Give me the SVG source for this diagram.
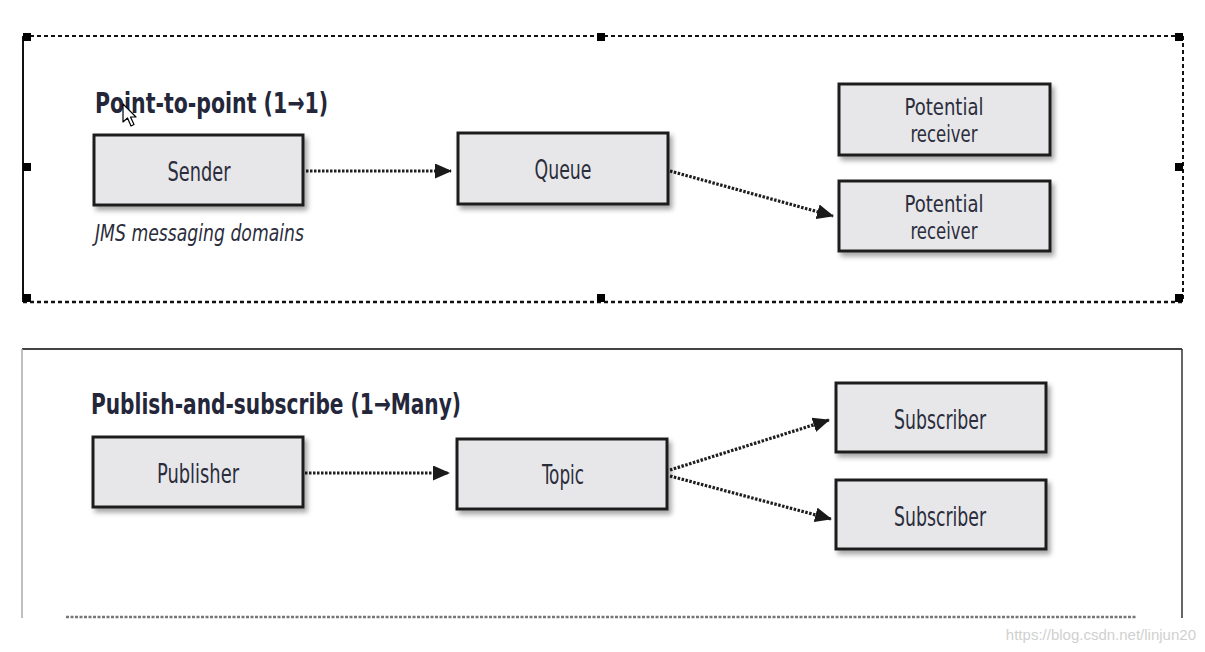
<svg xmlns="http://www.w3.org/2000/svg" width="1205" height="652" viewBox="0 0 1205 652">
<defs>
<filter id="sh" x="-10%" y="-20%" width="130%" height="150%">
<feDropShadow dx="3" dy="4" stdDeviation="2.5" flood-color="#000" flood-opacity="0.35"/>
</filter>
<marker id="ah" markerWidth="17" markerHeight="15" refX="16" refY="7.5" orient="auto" markerUnits="userSpaceOnUse">
<path d="M0,0 L17,7.5 L0,15 Z" fill="#1a1a1a"/>
</marker>
<style>
.box{fill:#e7e7e9;stroke:#1e1e1e;stroke-width:3;filter:url(#sh)}
.lbl{font-family:"Liberation Sans Narrow","DejaVu Sans Condensed","Liberation Sans",sans-serif;font-size:26px;fill:#2b2d3c;text-anchor:middle}
.lbl2{font-size:22.5px}
.title{font-family:"Liberation Sans Narrow","DejaVu Sans Condensed","Liberation Sans",sans-serif;font-weight:bold;font-size:29px;fill:#24263a}
.conn{stroke:#1e1e1e;stroke-width:3.2;stroke-dasharray:2.5 1.5;fill:none;marker-end:url(#ah)}
.hd{fill:#000}
</style>
</defs>
<rect width="1205" height="652" fill="#fff"/>

<g id="frame-top">
<line x1="23" y1="36" x2="1183" y2="36" stroke="#111" stroke-width="2" stroke-dasharray="4 3"/>
<line x1="23" y1="302" x2="1183" y2="302" stroke="#111" stroke-width="2.5" stroke-dasharray="4 3"/>
<line x1="1183" y1="36" x2="1183" y2="302" stroke="#111" stroke-width="2" stroke-dasharray="4 3"/>
<line x1="23" y1="36" x2="23" y2="302" stroke="#111" stroke-width="2"/>
<rect class="hd" x="23" y="33" width="8" height="8"/>
<rect class="hd" x="597" y="33" width="8" height="8"/>
<rect class="hd" x="1175" y="33" width="8" height="8"/>
<rect class="hd" x="23" y="163" width="8" height="8"/>
<rect class="hd" x="1175" y="163" width="8" height="8"/>
<rect class="hd" x="23" y="294" width="8" height="8"/>
<rect class="hd" x="597" y="294" width="8" height="8"/>
<rect class="hd" x="1175" y="294" width="8" height="8"/>
</g>

<g id="frame-bottom">
<line x1="22" y1="349" x2="1182" y2="349" stroke="#444" stroke-width="2"/>
<line x1="22" y1="349" x2="22" y2="618" stroke="#aaa" stroke-width="1.5"/>
<line x1="1182" y1="349" x2="1182" y2="618" stroke="#333" stroke-width="1.5"/>
<line x1="66" y1="617" x2="1136" y2="617" stroke="#777" stroke-width="2.5" stroke-dasharray="3 1.5"/>
</g>

<g id="titles">
<text class="title" x="95" y="113" textLength="233" lengthAdjust="spacingAndGlyphs">Point-to-point (1→1)</text>
<text x="95" y="241" textLength="209" lengthAdjust="spacingAndGlyphs" font-family="Liberation Sans Narrow, DejaVu Sans Condensed, Liberation Sans, sans-serif" font-style="italic" font-size="23" fill="#2b2d3c">JMS messaging domains</text>
<text class="title" x="91" y="414" textLength="370" lengthAdjust="spacingAndGlyphs">Publish-and-subscribe (1→Many)</text>
</g>

<g id="connectors">
<line class="conn" x1="306" y1="171" x2="451" y2="171"/>
<line class="conn" x1="670" y1="171" x2="833" y2="216"/>
<line class="conn" x1="305" y1="473" x2="449" y2="473"/>
<line class="conn" x1="670" y1="470" x2="829" y2="420"/>
<line class="conn" x1="670" y1="476" x2="831" y2="519"/>
</g>

<g id="sender">
<rect class="box" x="94" y="135" width="209" height="70"/>
<text class="lbl" x="199" y="181" textLength="63" lengthAdjust="spacingAndGlyphs">Sender</text>
</g>
<g id="queue">
<rect class="box" x="458" y="133" width="210" height="71"/>
<text class="lbl" x="563" y="179" textLength="57" lengthAdjust="spacingAndGlyphs">Queue</text>
</g>
<g id="receiver1">
<rect class="box" x="839" y="84" width="211" height="71"/>
<text class="lbl lbl2" x="944" y="115" textLength="79" lengthAdjust="spacingAndGlyphs">Potential</text>
<text class="lbl lbl2" x="944" y="142" textLength="67" lengthAdjust="spacingAndGlyphs">receiver</text>
</g>
<g id="receiver2">
<rect class="box" x="839" y="181" width="211" height="70"/>
<text class="lbl lbl2" x="944" y="212" textLength="79" lengthAdjust="spacingAndGlyphs">Potential</text>
<text class="lbl lbl2" x="944" y="239" textLength="67" lengthAdjust="spacingAndGlyphs">receiver</text>
</g>

<g id="publisher">
<rect class="box" x="93" y="437" width="210" height="70"/>
<text class="lbl" x="198" y="483" textLength="82" lengthAdjust="spacingAndGlyphs">Publisher</text>
</g>
<g id="topic">
<rect class="box" x="457" y="439" width="210" height="70"/>
<text class="lbl" x="563" y="484" textLength="42" lengthAdjust="spacingAndGlyphs">Topic</text>
</g>
<g id="subscriber1">
<rect class="box" x="836" y="383" width="210" height="69"/>
<text class="lbl" x="940" y="429" textLength="92" lengthAdjust="spacingAndGlyphs">Subscriber</text>
</g>
<g id="subscriber2">
<rect class="box" x="836" y="480" width="210" height="69"/>
<text class="lbl" x="940" y="526" textLength="92" lengthAdjust="spacingAndGlyphs">Subscriber</text>
</g>

<g id="cursor">
<path d="M123,104 L123,122 L127.5,118 L131,126 L134,124.5 L130.5,117 L136,117 Z" fill="#fff" stroke="#000" stroke-width="1.2" stroke-linejoin="round"/>
</g>

<text x="1196" y="640" text-anchor="end" font-family="Liberation Sans, sans-serif" font-size="15" fill="#d0d0d0">https://blog.csdn.net/linjun20</text>
</svg>
